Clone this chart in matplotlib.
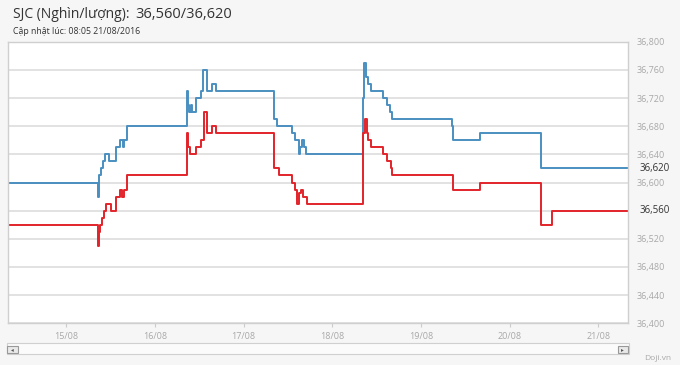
import matplotlib
matplotlib.use("Agg")
import matplotlib.pyplot as plt
import matplotlib.dates as mdates
from matplotlib.patches import Rectangle
import pandas as pd

plt.rcParams['font.family'] = ['Open Sans', 'DejaVu Sans']

# Giá bán (xanh) - SJC, nghìn/lượng
sell_times = ["14/08 07:55", "15/08 08:33", "15/08 08:43", "15/08 09:26", "15/08 09:53",
              "15/08 10:31", "15/08 11:24", "15/08 13:29", "15/08 14:38", "15/08 15:17",
              "15/08 15:43", "15/08 16:27",
              "16/08 08:38", "16/08 08:54", "16/08 09:18", "16/08 09:42", "16/08 10:06",
              "16/08 11:04", "16/08 12:24", "16/08 12:56", "16/08 14:01", "16/08 15:22",
              "16/08 16:27",
              "17/08 08:10", "17/08 09:06", "17/08 13:08", "17/08 14:01", "17/08 14:54",
              "17/08 15:22", "17/08 15:50", "17/08 16:16", "17/08 16:59",
              "18/08 08:17", "18/08 08:38", "18/08 09:10", "18/08 09:42", "18/08 10:26",
              "18/08 13:41", "18/08 14:46", "18/08 15:39", "18/08 16:16",
              "19/08 08:17", "19/08 08:43", "19/08 15:55",
              "20/08 08:33", "21/08 08:05"]
sell_values = [36600, 36580, 36610, 36620, 36630,
               36640, 36630, 36650, 36660, 36650,
               36660, 36680,
               36730, 36710, 36700, 36710, 36700,
               36720, 36730, 36760, 36730, 36740,
               36730,
               36690, 36680, 36670, 36660, 36640,
               36650, 36660, 36650, 36640,
               36720, 36770, 36750, 36740, 36730,
               36720, 36710, 36700, 36690,
               36680, 36660, 36670,
               36620, 36620]

# Giá mua (đỏ)
buy_times = ["14/08 07:55", "15/08 08:33", "15/08 08:43", "15/08 08:59", "15/08 09:38",
             "15/08 10:10", "15/08 10:47", "15/08 11:57", "15/08 13:29", "15/08 14:22",
             "15/08 15:01", "15/08 15:33", "15/08 16:22",
             "16/08 08:38", "16/08 08:54", "16/08 09:34", "16/08 11:04", "16/08 12:24",
             "16/08 13:18", "16/08 13:56", "16/08 15:33", "16/08 16:27",
             "17/08 08:10", "17/08 09:31", "17/08 13:08", "17/08 13:50", "17/08 14:28",
             "17/08 14:54", "17/08 15:33", "17/08 16:06", "17/08 17:10",
             "18/08 08:17", "18/08 08:49", "18/08 09:26", "18/08 09:47", "18/08 10:26",
             "18/08 13:41", "18/08 14:46", "18/08 15:50", "18/08 16:16",
             "19/08 08:43", "19/08 15:55",
             "20/08 08:33", "20/08 11:31", "21/08 08:05"]
buy_values = [36540, 36510, 36530, 36540, 36550,
              36560, 36570, 36560, 36580, 36590,
              36580, 36590, 36610,
              36670, 36650, 36640, 36650, 36660,
              36700, 36670, 36680, 36670,
              36620, 36610, 36600, 36590, 36570,
              36585, 36590, 36580, 36570,
              36670, 36690, 36670, 36660, 36650,
              36640, 36630, 36620, 36610,
              36590, 36600,
              36540, 36560, 36560]

y_ticks = [36400, 36440, 36480, 36520, 36560, 36600, 36640, 36680, 36720, 36760, 36800]
last_sell = 36620
last_buy = 36560


def parse(ts):
    return pd.to_datetime([t + "/2016" for t in ts], format="%d/%m %H:%M/%Y")


sell_dt = parse(sell_times)
buy_dt = parse(buy_times)

fig = plt.figure(figsize=(6.8, 3.65), dpi=100, facecolor='#f6f6f6')
W, H = 680, 365
ax = fig.add_axes([7.7 / W, 1 - 323.3 / H, (628 - 7.7) / W, (323.3 - 41.7) / H])
ax.set_facecolor('white')

ax.plot(sell_dt, sell_values, drawstyle='steps-post', color='#4a8fc1', lw=1.4)
ax.plot(buy_dt, buy_values, drawstyle='steps-post', color='#e2242a', lw=1.4)

ax.set_xlim(pd.Timestamp("2016-08-14 08:05"), pd.Timestamp("2016-08-21 08:05"))
ax.set_ylim(36400, 36800)
ax.set_yticks(y_ticks)
# nhãn trục bị thay bằng nhãn giá cuối
ax.set_yticklabels(["" if v == last_buy else f"{v:,}" for v in y_ticks])
ax.yaxis.tick_right()
ax.tick_params(axis='y', length=0, pad=6.5, labelsize=6.5, labelcolor='#a8a8a8')
ax.grid(axis='y', color='#dddddd', lw=1.2)
ax.set_axisbelow(True)

ax.xaxis.set_major_locator(mdates.DayLocator())
ax.xaxis.set_major_formatter(mdates.DateFormatter('%d/%m'))
ax.tick_params(axis='x', length=3, color='#cccccc', pad=3, labelsize=6.5, labelcolor='#a8a8a8')

for s in ax.spines.values():
    s.set_color('#cfcfcf')
    s.set_linewidth(1.0)

# nhãn giá cuối
for v in (last_sell, last_buy):
    ax.annotate(f"{v:,}", xy=(1, v), xycoords=('axes fraction', 'data'),
                xytext=(8, 0), textcoords='offset points', va='center', ha='left',
                fontsize=7, color='#333333')

fig.text(13 / W, 1 - 14 / H, "SJC (Nghìn/lượng):", fontsize=10,
         color='#333333', va='center', ha='left')
fig.text(135 / W, 1 - 14 / H, "36,560/36,620", fontsize=10.5,
         color='#333333', va='center', ha='left')
fig.text(13 / W, 1 - 32 / H, "Cập nhật lúc: 08:05 21/08/2016", fontsize=6.3,
         color='#333333', va='center', ha='left')
fig.text(658 / W, 1 - 358 / H, "Doji.vn", fontsize=6, color='#a8a8a8', va='center', ha='center')

# thanh cuộn
fig.add_artist(Rectangle((7.3 / W, 1 - 354.3 / H), (629 - 7.3) / W, 11 / H,
                         transform=fig.transFigure, facecolor='#fbfbfb', edgecolor='#d0d0d0', lw=0.8))
for x0 in (7.3, 617.5):
    fig.add_artist(Rectangle((x0 / W, 1 - 353 / H), 10.5 / W, 7.5 / H,
                             transform=fig.transFigure, facecolor='#e9e9e9', edgecolor='#999999', lw=0.8))
fig.text(12.5 / W, 1 - 349.5 / H, "◂", fontsize=4, color='#555555', va='center', ha='center')
fig.text(622.8 / W, 1 - 349.5 / H, "▸", fontsize=4, color='#555555', va='center', ha='center')

fig.savefig("out.png", dpi=100, facecolor=fig.get_facecolor())
